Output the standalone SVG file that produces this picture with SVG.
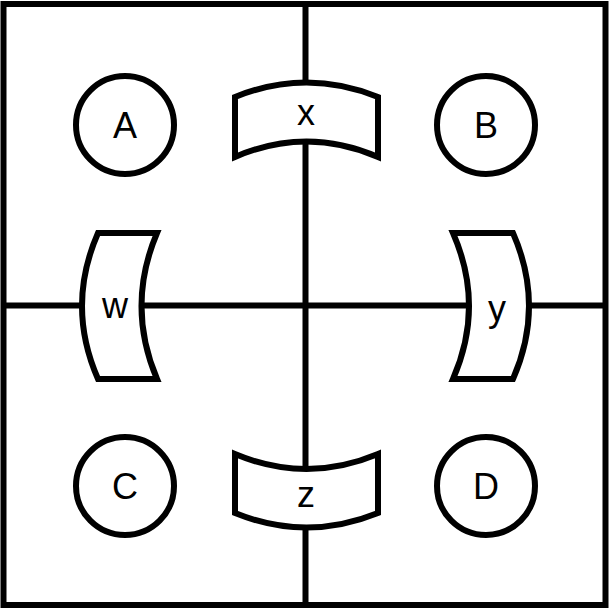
<svg xmlns="http://www.w3.org/2000/svg" width="609" height="609" viewBox="0 0 609 609">
<style>
.ln{stroke:#000;stroke-width:6;fill:none}
.nd{stroke:#000;stroke-width:6;fill:#fff;stroke-linejoin:miter}
.lb{font-family:"Liberation Sans","DejaVu Sans",sans-serif;font-size:36px;fill:#000;text-anchor:middle}
</style>
<rect width="609" height="609" fill="#fff"/>
<g id="connectors">
<rect class="ln" x="3.5" y="4" width="602" height="601"/>
<line class="ln" x1="305.5" y1="4" x2="305.5" y2="605"/>
<line class="ln" x1="3.5" y1="305.5" x2="605.5" y2="305.5"/>
</g>
<g id="A"><circle class="nd" cx="125" cy="125" r="49"/><text class="lb" x="125" y="138">A</text></g>
<g id="B"><circle class="nd" cx="486" cy="125" r="49"/><text class="lb" x="486" y="138">B</text></g>
<g id="C"><circle class="nd" cx="125" cy="486" r="49"/><text class="lb" x="125" y="499">C</text></g>
<g id="D"><circle class="nd" cx="486" cy="486" r="49"/><text class="lb" x="486" y="499">D</text></g>
<g id="X"><path class="nd" d="M235,97 Q306.5,68 378,97 L378,157 Q306.5,126 235,157 Z"/><text class="lb" x="306" y="125">x</text></g>
<g id="Z"><path class="nd" d="M235,454 Q306.5,484 378,454 L378,513 Q306.5,542 235,513 Z"/><text class="lb" x="306" y="507">z</text></g>
<g id="W"><path class="nd" d="M98,233 L157,233 Q126,306 157,379 L98,379 Q66,306 98,233 Z"/><text class="lb" x="115" y="318">w</text></g>
<g id="Y"><path class="nd" d="M453,233 L513,233 Q545,306 513,379 L453,379 Q485,306 453,233 Z"/><text class="lb" x="497" y="321">y</text></g>
</svg>
